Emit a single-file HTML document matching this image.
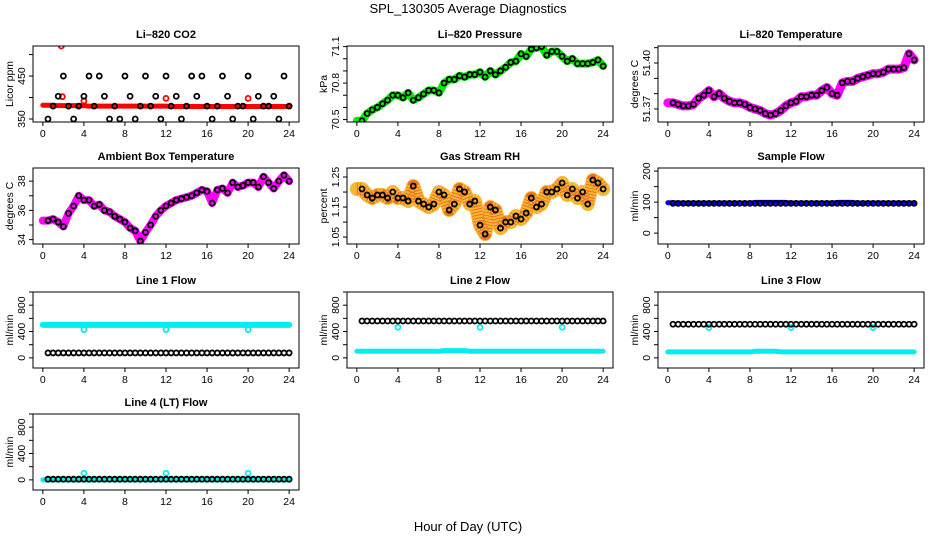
<!DOCTYPE html>
<html><head><meta charset="utf-8"><style>
body{margin:0;background:#fff}
svg{display:block;font-family:"Liberation Sans",Helvetica,Arial,sans-serif}
</style></head><body>
<svg id="c" width="936" height="540" viewBox="0 0 936 540">
<text x="468" y="13" text-anchor="middle" font-size="13">SPL_130305  Average Diagnostics</text>
<text x="468" y="531" text-anchor="middle" font-size="13">Hour of Day (UTC)</text>
</svg>
<script>
const hours = [0.5,1,1.5,2,2.5,3,3.5,4,4.5,5,5.5,6,6.5,7,7.5,8,8.5,9,9.5,10,10.5,11,11.5,12,12.5,13,13.5,14,14.5,15,15.5,16,16.5,17,17.5,18,18.5,19,19.5,20,20.5,21,21.5,22,22.5,23,23.5,24];
const xTicks = [0,4,8,12,16,20,24];
const co2Black = [350,380,403,450,380,350,380,403,450,380,450,403,350,380,350,450,403,350,380,450,380,403,350,450,380,403,350,380,450,403,450,380,350,380,450,403,350,380,380,450,350,403,380,380,403,350,450,380];
const co2Red = [382,382,381,381,381,381,381,381,380,380,380,380,380,380,380,380,380,380,380,380,380,380,380,380,379,379,379,379,379,379,379,379,379,379,379,379,379,379,379,379,379,379,379,379,379,379,379,379];
const co2RedOutHours = [1.8,1.9,4.0,12.0,20.0];
const co2RedOutVals = [520,402,392,398,398];
const pressure = [70.49,70.55,70.58,70.6,70.63,70.66,70.7,70.7,70.68,70.72,70.66,70.68,70.71,70.74,70.74,70.72,70.8,70.83,70.83,70.86,70.85,70.87,70.87,70.89,70.85,70.9,70.87,70.9,70.93,70.97,70.98,71.04,71.02,71.08,71.09,71.1,71.03,71.06,71.06,71.02,70.98,71.0,70.96,70.96,70.96,70.97,70.99,70.94];
const liTemp = [51.374,51.373,51.372,51.372,51.373,51.377,51.379,51.382,51.378,51.380,51.377,51.375,51.374,51.374,51.373,51.371,51.370,51.369,51.367,51.366,51.367,51.369,51.372,51.374,51.375,51.378,51.378,51.379,51.379,51.382,51.384,51.380,51.379,51.387,51.388,51.388,51.390,51.391,51.392,51.393,51.393,51.394,51.396,51.396,51.396,51.397,51.406,51.402];
const ambient = [35.3,35.4,35.2,34.9,35.8,36.3,37.0,36.7,36.7,36.3,36.4,36.0,35.9,35.6,35.4,35.2,34.8,34.6,33.9,34.5,35.0,35.6,36.0,36.3,36.5,36.7,36.8,36.9,37.0,37.2,37.4,37.3,36.5,37.4,37.5,37.2,37.9,37.6,37.7,37.9,37.9,37.6,38.3,37.9,37.5,38.0,38.4,38.0];
const rh = [1.21,1.19,1.18,1.19,1.19,1.18,1.20,1.18,1.18,1.17,1.22,1.17,1.16,1.15,1.16,1.20,1.19,1.14,1.16,1.21,1.20,1.16,1.17,1.09,1.06,1.15,1.14,1.08,1.10,1.10,1.12,1.11,1.13,1.18,1.15,1.16,1.20,1.20,1.21,1.23,1.19,1.21,1.18,1.20,1.16,1.24,1.23,1.21];
const sampleBlack = [96,96,96,96,96,96,96,96,96,96,96,96,96,96,96,96,96,96,96,96,96,96,96,96,96,96,96,96,96,96,96,96,96,96,96,96,96,96,96,96,96,96,96,96,96,96,96,96];
const sampleBlue = [98,97,97,97,97,97,97,97,97,97,97,97,97,97,97,97,99,99,99,99,99,99,99,97,97,97,97,97,97,97,97,97,99,99,99,99,97,97,97,97,97,97,97,97,97,97,97,97];
const line1Black = [75,75,75,75,75,75,75,75,75,75,75,75,75,75,75,75,75,75,75,75,75,75,75,75,75,75,75,75,75,75,75,75,75,75,75,75,75,75,75,75,75,75,75,75,75,75,75,75];
const line1Cyan = [500,500,500,500,500,500,500,500,500,500,500,500,500,500,500,500,500,500,500,500,500,500,500,500,500,500,500,500,500,500,500,500,500,500,500,500,500,500,500,500,500,500,500,500,500,500,500,500];
const line2Black = [560,560,560,560,560,560,560,560,560,560,560,560,560,560,560,560,560,560,560,560,560,560,560,560,560,560,560,560,560,560,560,560,560,560,560,560,560,560,560,560,560,560,560,560,560,560,560,560];
const line2Cyan = [100,100,100,100,100,100,100,100,100,100,100,100,100,100,100,100,110,110,110,110,110,100,100,100,100,100,100,100,100,100,100,100,100,100,100,100,100,100,100,100,100,100,100,100,100,100,100,100];
const line3Black = [510,510,510,510,510,510,510,510,510,510,510,510,510,510,510,510,510,510,510,510,510,510,510,510,510,510,510,510,510,510,510,510,510,510,510,510,510,510,510,510,510,510,510,510,510,510,510,510];
const line3Cyan = [90,90,90,90,90,90,90,90,90,90,90,90,90,90,90,90,100,100,100,100,100,90,90,90,90,90,90,90,90,90,90,90,90,90,90,90,90,90,90,90,90,90,90,90,90,90,90,90];
const line4Black = [10,10,10,10,10,10,10,10,10,10,10,10,10,10,10,10,10,10,10,10,10,10,10,10,10,10,10,10,10,10,10,10,10,10,10,10,10,10,10,10,10,10,10,10,10,10,10,10];
const line4Cyan = [0,0,0,0,0,0,0,0,0,0,0,0,0,0,0,0,0,0,0,0,0,0,0,0,0,0,0,0,0,0,0,0,0,0,0,0,0,0,0,0,0,0,0,0,0,0,0,0];
const dipHours = [4,12,20];
const line1Dips = [430,430,430];
const line2Dips = [465,465,465];
const line3Dips = [460,460,460];
const line4Dips = [100,100,100];
const flowTicks = [0,200,400,600,800,1000];
const flowLabels = [0,400,800];

const svg = document.getElementById('c');
const NS = 'http://www.w3.org/2000/svg';
function mk(tag, attrs, parent){const e=document.createElementNS(NS,tag);for(const k in attrs)e.setAttribute(k,attrs[k]);(parent||svg).appendChild(e);return e;}

const colX = [33,347,658], rowY = [46,168,292,414], W = 266, H = 76;
const panels = [
 {c:0,r:0,name:'co2',title:'Li\u2013820 CO2',ylab:'Licor ppm',ymin:343,ymax:520,ticks:[350,400,450,500],labels:[350,450],band:co2Red,bandColor:'#ff0000',bw:5,black:co2Black,extra:[[co2RedOutHours,co2RedOutVals,'#ff0000']],fmt:v=>v},
 {c:1,r:0,name:'pressure',title:'Li\u2013820 Pressure',ylab:'kPa',ymin:70.48,ymax:71.105,ticks:[70.5,70.6,70.7,70.8,70.9,71.0,71.1],labels:[70.5,70.8,71.1],band:pressure,bandColor:'#00ee00',bw:8,black:pressure,fmt:v=>v.toFixed(1)},
 {c:2,r:0,name:'li820-temperature',title:'Li\u2013820 Temperature',ylab:'degrees C',ymin:51.3615,ymax:51.4111,ticks:[51.37,51.38,51.39,51.40,51.41],labels:[51.37,51.40],band:liTemp,bandColor:'#ff00ff',bw:9,black:liTemp,fmt:v=>v.toFixed(2)},
 {c:0,r:1,name:'ambient-temperature',title:'Ambient Box Temperature',ylab:'degrees C',ymin:33.7,ymax:38.9,ticks:[34,35,36,37,38],labels:[34,36,38],band:ambient,bandColor:'#ff00ff',bw:8,black:ambient,fmt:v=>v},
 {c:1,r:1,name:'gas-rh',title:'Gas Stream RH',ylab:'percent',ymin:1.027,ymax:1.28,ticks:[1.05,1.10,1.15,1.20,1.25],labels:[1.05,1.15,1.25],band:rh,bandColor:'#f7b733',bw:14,black:rh,fmt:v=>v.toFixed(2)},
 {c:2,r:1,name:'sample-flow',title:'Sample Flow',ylab:'ml/min',ymin:-35,ymax:210,ticks:[0,50,100,150,200],labels:[0,100,200],band:sampleBlue,bandColor:'#0000ee',bw:5,black:sampleBlack,fmt:v=>v},
 {c:0,r:2,name:'line1-flow',title:'Line 1 Flow',ylab:'ml/min',ymin:-154,ymax:1000,ticks:flowTicks,labels:flowLabels,band:line1Cyan,bandColor:'#00eeee',bw:6,black:line1Black,extra:[[dipHours,line1Dips,'#00eeee']],fmt:v=>v},
 {c:1,r:2,name:'line2-flow',title:'Line 2 Flow',ylab:'ml/min',ymin:-154,ymax:1000,ticks:flowTicks,labels:flowLabels,band:line2Cyan,bandColor:'#00eeee',bw:5,black:line2Black,extra:[[dipHours,line2Dips,'#00eeee']],fmt:v=>v},
 {c:2,r:2,name:'line3-flow',title:'Line 3 Flow',ylab:'ml/min',ymin:-154,ymax:1000,ticks:flowTicks,labels:flowLabels,band:line3Cyan,bandColor:'#00eeee',bw:5,black:line3Black,extra:[[dipHours,line3Dips,'#00eeee']],fmt:v=>v},
 {c:0,r:3,name:'line4-flow',title:'Line 4 (LT) Flow',ylab:'ml/min',ymin:-154,ymax:1000,ticks:flowTicks,labels:flowLabels,band:line4Cyan,bandColor:'#00eeee',bw:5,black:line4Black,extra:[[dipHours,line4Dips,'#00eeee']],fmt:v=>v}
];

panels.forEach(p=>{
  const L=colX[p.c], T=rowY[p.r];
  const g=mk('g',{});
  
  
  const xs=h=>L+(h+0.96)/25.92*W;
  const ys=v=>T+H-(v-p.ymin)/(p.ymax-p.ymin)*H;
  const clipId='clip-'+p.name;
  const cp=mk('clipPath',{id:clipId},g); mk('rect',{x:L,y:T,width:W,height:H},cp);
  const plot=mk('g',{'clip-path':'url(#'+clipId+')'},g);
  let pts=xs(0)+','+ys(p.band[0]);
  hours.forEach((h,i)=>{pts+=' '+xs(h)+','+ys(p.band[i]);});
  const band=mk('polyline',{points:pts,fill:'none',stroke:p.bandColor,'stroke-width':p.bw,'stroke-linejoin':'round','stroke-linecap':'round'},plot);
  
  
  if(p.name==='gas-rh'){
    mk('polyline',{points:pts,fill:'none',stroke:'#e03010','stroke-width':p.bw-2,'stroke-dasharray':'1 2','stroke-linejoin':'round','stroke-opacity':0.5},plot);
  }
  (p.extra||[]).forEach(ex=>{
    ex[0].forEach((h,i)=>{
      const c=mk('circle',{cx:xs(h),cy:ys(ex[1][i]),r:2.5,fill:'none',stroke:ex[2],'stroke-width':1.8},plot);
      
      
    });
  });
  hours.forEach((h,i)=>{
    const c=mk('circle',{cx:xs(h),cy:ys(p.black[i]),r:2.5,fill:'none',stroke:'#000','stroke-width':1.8},plot);
    
    
  });
  mk('rect',{x:L,y:T,width:W,height:H,fill:'none',stroke:'#000','stroke-width':1},g);
  const t=mk('text',{x:L+W/2,y:T-8,'text-anchor':'middle','font-size':11,'font-weight':'bold'},g);
  t.textContent=p.title;
  
  
  const xb=T+H;
  mk('line',{x1:xs(0),x2:xs(24),y1:xb,y2:xb,stroke:'#000'},g);
  xTicks.forEach(v=>{
    mk('line',{x1:xs(v),x2:xs(v),y1:xb,y2:xb+4,stroke:'#000'},g);
    const tl=mk('text',{x:xs(v),y:xb+15,'text-anchor':'middle','font-size':10.5},g);
    tl.textContent=v;
    
    
  });
  p.ticks.forEach(v=>{
    const y=ys(v); if(y<T-1||y>T+H+1) return;
    mk('line',{x1:L,x2:L-4,y1:y,y2:y,stroke:'#000'},g);
  });
  p.labels.forEach(v=>{
    const y=ys(v);
    const tl=mk('text',{x:0,y:0,'text-anchor':'middle','font-size':10.5,transform:'translate('+(L-8)+','+y+') rotate(-90)'},g);
    tl.textContent=p.fmt(v);
    
    
  });
  const yl=mk('text',{x:0,y:0,'text-anchor':'middle','font-size':10.5,transform:'translate('+(L-20)+','+(T+H/2)+') rotate(-90)'},g);
  yl.textContent=p.ylab;
  
  
});
</script>
</body></html>
